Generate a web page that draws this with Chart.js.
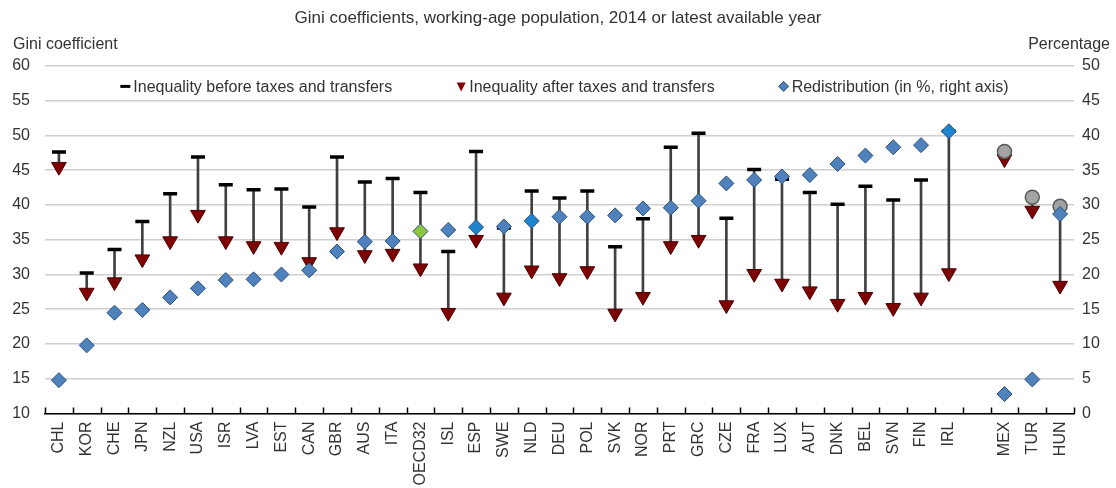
<!DOCTYPE html>
<html>
<head>
<meta charset="utf-8">
<title>Gini coefficients, working-age population</title>
<script src="https://cdn.jsdelivr.net/npm/chart.js@4.4.1/dist/chart.umd.min.js"></script>
<style>
  html, body { margin: 0; padding: 0; background: #fff; }
  #wrap { width: 1116px; height: 488px; }
</style>
</head>
<body>
<div id="wrap"><canvas id="giniChart"></canvas></div>
<script>
// country codes, '' is the gap before the net-income countries
const countries = ['CHL','KOR','CHE','JPN','NZL','USA','ISR','LVA','EST','CAN','GBR','AUS','ITA','OECD32',
  'ISL','ESP','SWE','NLD','DEU','POL','SVK','NOR','PRT','GRC','CZE','FRA','LUX','AUT','DNK','BEL','SVN',
  'FIN','IRL','','MEX','TUR','HUN'];

// Gini before taxes and transfers (left axis)
const beforeTax = [47.6, 30.2, 33.6, 37.6, 41.6, 46.9, 42.9, 42.2, 42.3, 39.7, 46.9, 43.3, 43.8, 41.8,
  33.3, 47.7, 36.7, 42.0, 41.0, 42.0, 34.0, 38.0, 48.3, 50.3, 38.1, 45.1, 43.7, 41.8, 40.1, 42.7, 40.7,
  43.6, 50.6, null, null, null, null];

// grey circles for MEX, TUR, HUN
const beforeNetBased = [null, null, null, null, null, null, null, null, null, null, null, null, null, null,
  null, null, null, null, null, null, null, null, null, null, null, null, null, null, null, null, null,
  null, null, null, 47.7, 41.1, 39.8];

// Gini after taxes and transfers (left axis)
const afterTax = [45.5, 27.4, 28.9, 32.2, 34.8, 38.6, 34.8, 34.1, 34.0, 31.8, 36.1, 32.8, 33.0, 30.9,
  24.5, 35.0, 26.7, 30.6, 29.5, 30.5, 24.4, 26.8, 34.1, 35.0, 25.6, 30.1, 28.7, 27.6, 25.8, 26.8, 25.2,
  26.7, 30.2, null, 46.6, 39.2, 28.4];

// redistribution in % (right axis)
const redistribution = [4.8, 9.8, 14.5, 14.9, 16.7, 18.0, 19.2, 19.3, 20.0, 20.6, 23.3, 24.7, 24.8, 26.2,
  26.4, 26.8, 26.9, 27.7, 28.3, 28.3, 28.5, 29.5, 29.6, 30.6, 33.1, 33.6, 34.1, 34.3, 35.9, 37.1, 38.3,
  38.6, 40.6, null, 2.8, 4.9, 28.7];

const leftTicks = [10, 60, 5];
const rightTicks = [0, 50, 5];

const FONT = "'Liberation Sans', Arial, sans-serif";
const TXT = '#333333';
const RED = '#7f0000';
const BLUE = '#4f81bd';
const specialColors = { OECD32: '#8cc63f', ESP: '#1f84cf', NLD: '#1f84cf', IRL: '#1f84cf' };

const connector = countries.map((c, i) => {
  const top = beforeTax[i] != null ? beforeTax[i] : beforeNetBased[i];
  if (top == null || afterTax[i] == null) return null;
  return [afterTax[i], top];
});

// legend inside the plot + axis captions + inward x ticks
const extras = {
  id: 'extras',
  afterDraw(chart) {
    const ctx = chart.ctx;
    const area = chart.chartArea;
    ctx.save();

    // ticks between categories, pointing up
    const n = countries.length;
    ctx.strokeStyle = '#000';
    ctx.lineWidth = 1.5;
    for (let i = 0; i <= n; i++) {
      const x = Math.round(area.left + i * (area.right - area.left) / n) + 0.5;
      ctx.beginPath();
      ctx.moveTo(x, area.bottom);
      ctx.lineTo(x, area.bottom - 6);
      ctx.stroke();
    }

    // axis captions
    ctx.font = '16px ' + FONT;
    ctx.fillStyle = TXT;
    ctx.textBaseline = 'middle';
    ctx.textAlign = 'left';
    ctx.fillText('Gini coefficient', 13, 45);
    ctx.textAlign = 'right';
    ctx.fillText('Percentage', chart.width - 6, 45);

    // legend
    const items = [
      { label: 'Inequality before taxes and transfers', kind: 'dash' },
      { label: 'Inequality after taxes and transfers', kind: 'tri' },
      { label: 'Redistribution (in %, right axis)', kind: 'dia' }
    ];
    const markW = 10, markGap = 3, gap = 64;
    ctx.font = '16px ' + FONT;
    const widths = items.map(it => markW + markGap + ctx.measureText(it.label).width);
    const total = widths.reduce((a, b) => a + b, 0) + gap * (items.length - 1);
    let x = (area.left + area.right) / 2 + 5 - total / 2;
    const y = area.top + 20.5;
    items.forEach((it, k) => {
      const cx = x + markW / 2;
      if (it.kind === 'dash') {
        ctx.fillStyle = '#000';
        ctx.fillRect(x, y - 1.5, markW, 3);
      } else if (it.kind === 'tri') {
        ctx.fillStyle = RED;
        ctx.beginPath();
        ctx.moveTo(cx - 4.5, y - 4);
        ctx.lineTo(cx + 4.5, y - 4);
        ctx.lineTo(cx, y + 5);
        ctx.closePath();
        ctx.fill();
      } else {
        ctx.fillStyle = BLUE;
        ctx.strokeStyle = '#2b4f7a';
        ctx.lineWidth = 1;
        ctx.beginPath();
        ctx.moveTo(cx, y - 5);
        ctx.lineTo(cx + 5, y);
        ctx.lineTo(cx, y + 5);
        ctx.lineTo(cx - 5, y);
        ctx.closePath();
        ctx.fill();
        ctx.stroke();
      }
      ctx.fillStyle = TXT;
      ctx.textAlign = 'left';
      ctx.fillText(it.label, x + markW + markGap, y + 1);
      x += widths[k] + gap;
    });
    ctx.restore();
  }
};

new Chart(document.getElementById('giniChart'), {
  data: {
    labels: countries,
    datasets: [
      {
        type: 'bar',
        label: 'range',
        data: connector,
        backgroundColor: '#404040',
        barThickness: 2,
        order: 5
      },
      {
        type: 'line',
        label: 'Inequality before taxes and transfers',
        data: beforeTax,
        showLine: false,
        pointStyle: 'line',
        pointRadius: 7,
        pointBorderWidth: 3.5,
        borderColor: '#000',
        backgroundColor: '#000',
        order: 4
      },
      {
        type: 'line',
        label: 'Inequality after taxes and transfers',
        data: afterTax,
        showLine: false,
        pointStyle: 'triangle',
        pointRotation: 180,
        pointRadius: 8.5,
        pointBorderWidth: 1,
        borderColor: '#4a0000',
        backgroundColor: RED,
        order: 3
      },
      {
        type: 'line',
        label: 'before (net based)',
        data: beforeNetBased,
        showLine: false,
        pointStyle: 'circle',
        pointRadius: 7,
        pointBorderWidth: 1.5,
        borderColor: '#5a5a5a',
        backgroundColor: '#a3a3a3',
        order: 2
      },
      {
        type: 'line',
        label: 'Redistribution (in %, right axis)',
        data: redistribution,
        yAxisID: 'y1',
        showLine: false,
        pointStyle: 'rectRot',
        pointRadius: 7.5,
        pointBorderWidth: 1,
        borderColor: '#2b4f7a',
        backgroundColor: countries.map(c => specialColors[c] || BLUE),
        pointBackgroundColor: countries.map(c => specialColors[c] || BLUE),
        order: 1
      }
    ]
  },
  options: {
    responsive: true,
    maintainAspectRatio: false,
    animation: false,
    layout: { padding: 0 },
    plugins: {
      legend: { display: false },
      tooltip: { enabled: false },
      title: {
        display: true,
        text: 'Gini coefficients, working-age population, 2014 or latest available year',
        color: TXT,
        font: { family: FONT, size: 17, weight: 'normal' },
        padding: { top: 8, bottom: 37.5 }
      }
    },
    scales: {
      x: {
        offset: true,
        grid: { display: false },
        border: { display: true, color: '#000', width: 1.5 },
        ticks: {
          autoSkip: false,
          minRotation: 90,
          maxRotation: 90,
          padding: 0,
          color: TXT,
          font: { family: FONT, size: 16 }
        },
        afterFit: s => { s.height = 74.5; }
      },
      y: {
        position: 'left',
        min: leftTicks[0],
        max: leftTicks[1],
        grid: { color: '#cfcfcf', lineWidth: 1.5, drawTicks: false },
        border: { display: false },
        ticks: {
          stepSize: leftTicks[2],
          padding: 15,
          color: TXT,
          font: { family: FONT, size: 16 }
        },
        afterFit: s => { s.width = 45; }
      },
      y1: {
        position: 'right',
        min: rightTicks[0],
        max: rightTicks[1],
        grid: { drawOnChartArea: false, drawTicks: false },
        border: { display: false },
        ticks: {
          stepSize: rightTicks[2],
          padding: 8,
          color: TXT,
          font: { family: FONT, size: 16 }
        },
        afterFit: s => { s.width = 42; }
      }
    }
  },
  plugins: [extras]
});
</script>
</body>
</html>
